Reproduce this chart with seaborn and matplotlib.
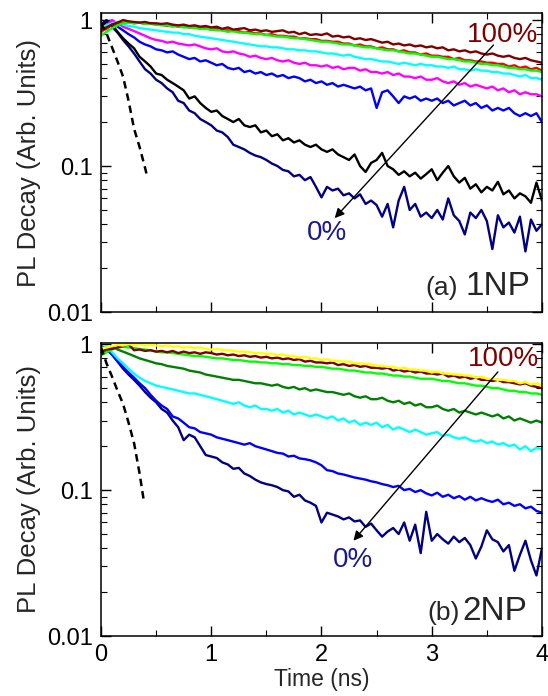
import numpy as np
import matplotlib.pyplot as plt
import matplotlib.ticker as mticker
import seaborn as sns

# ==============================================================================
# DATOS
# ==============================================================================

# --- Eje temporal común (ns), muestreo cada 0.05 ns ---
TIEMPO_NS = np.linspace(0.0, 4.0, 81)

# --- Panel (a) 1NP ---
MAROON_1NP = [0.86, 0.89, 0.93, 0.96, 1.00, 0.98, 0.97, 0.96, 0.97, 0.95,
              0.95, 0.94, 0.95, 0.93, 0.92, 0.93, 0.91, 0.92, 0.90, 0.91,
              0.89, 0.90, 0.87, 0.89, 0.86, 0.87, 0.88, 0.85, 0.86, 0.84,
              0.85, 0.83, 0.84, 0.85, 0.82, 0.83, 0.80, 0.82, 0.79, 0.80,
              0.79, 0.81, 0.77, 0.78, 0.76, 0.77, 0.74, 0.75, 0.73, 0.74,
              0.72, 0.70, 0.71, 0.68, 0.69, 0.67, 0.68, 0.66, 0.67, 0.65,
              0.66, 0.64, 0.65, 0.62, 0.63, 0.61, 0.62, 0.60, 0.61, 0.59,
              0.58, 0.59, 0.57, 0.56, 0.57, 0.55, 0.54, 0.55, 0.53, 0.52,
              0.51]
RED_1NP = [0.84, 0.87, 0.93, 0.95, 0.96, 0.97, 0.95, 0.96, 0.94, 0.95,
           0.93, 0.93, 0.91, 0.92, 0.90, 0.91, 0.89, 0.89, 0.88, 0.88,
           0.86, 0.87, 0.85, 0.85, 0.84, 0.84, 0.82, 0.83, 0.81, 0.81,
           0.79, 0.80, 0.78, 0.78, 0.77, 0.77, 0.75, 0.75, 0.74, 0.74,
           0.72, 0.72, 0.71, 0.71, 0.69, 0.69, 0.67, 0.68, 0.66, 0.66,
           0.64, 0.65, 0.63, 0.63, 0.61, 0.62, 0.60, 0.60, 0.58, 0.59,
           0.57, 0.57, 0.56, 0.56, 0.54, 0.55, 0.53, 0.53, 0.52, 0.52,
           0.51, 0.51, 0.50, 0.50, 0.48, 0.49, 0.47, 0.48, 0.46, 0.47,
           0.45]
LIME_1NP = [0.78, 0.83, 0.88, 0.92, 0.95, 0.96, 0.95, 0.96, 0.94, 0.94,
            0.93, 0.92, 0.92, 0.90, 0.91, 0.89, 0.89, 0.88, 0.87, 0.87,
            0.86, 0.85, 0.85, 0.83, 0.84, 0.82, 0.82, 0.81, 0.80, 0.80,
            0.79, 0.78, 0.77, 0.77, 0.76, 0.75, 0.75, 0.74, 0.73, 0.72,
            0.71, 0.71, 0.70, 0.69, 0.68, 0.68, 0.67, 0.66, 0.65, 0.65,
            0.64, 0.63, 0.62, 0.62, 0.61, 0.60, 0.59, 0.59, 0.58, 0.57,
            0.56, 0.56, 0.55, 0.54, 0.54, 0.53, 0.52, 0.52, 0.51, 0.50,
            0.50, 0.49, 0.49, 0.48, 0.47, 0.47, 0.46, 0.46, 0.45, 0.45,
            0.44]
CYAN_1NP = [0.88, 0.92, 0.95, 0.97, 0.93, 0.91, 0.90, 0.88, 0.87, 0.86,
            0.85, 0.84, 0.83, 0.82, 0.82, 0.80, 0.80, 0.78, 0.77, 0.76,
            0.75, 0.74, 0.73, 0.72, 0.71, 0.70, 0.69, 0.68, 0.67, 0.66,
            0.66, 0.65, 0.65, 0.64, 0.63, 0.63, 0.62, 0.62, 0.61, 0.61,
            0.60, 0.59, 0.59, 0.58, 0.57, 0.58, 0.56, 0.55, 0.54, 0.54,
            0.53, 0.52, 0.52, 0.51, 0.50, 0.51, 0.50, 0.49, 0.50, 0.49,
            0.49, 0.48, 0.48, 0.47, 0.48, 0.46, 0.46, 0.45, 0.46, 0.45,
            0.45, 0.44, 0.44, 0.43, 0.43, 0.42, 0.41, 0.42, 0.40, 0.40,
            0.39]
MAGENTA_1NP = [0.82, 0.92, 1.00, 0.95, 0.90, 0.87, 0.84, 0.81, 0.78, 0.75,
               0.73, 0.72, 0.70, 0.71, 0.69, 0.68, 0.67, 0.68, 0.66, 0.64,
               0.63, 0.64, 0.61, 0.60, 0.61, 0.59, 0.58, 0.56, 0.57, 0.55,
               0.54, 0.55, 0.53, 0.52, 0.53, 0.51, 0.50, 0.51, 0.49, 0.49,
               0.48, 0.49, 0.47, 0.48, 0.46, 0.47, 0.47, 0.45, 0.46, 0.44,
               0.44, 0.43, 0.44, 0.42, 0.43, 0.41, 0.41, 0.40, 0.41, 0.39,
               0.39, 0.40, 0.38, 0.37, 0.38, 0.36, 0.37, 0.35, 0.36, 0.35,
               0.34, 0.35, 0.33, 0.34, 0.32, 0.33, 0.31, 0.32, 0.31, 0.31,
               0.30]
BLUE_1NP = [0.85, 0.92, 0.96, 0.90, 0.85, 0.80, 0.76, 0.71, 0.68, 0.66,
            0.63, 0.62, 0.60, 0.61, 0.58, 0.56, 0.54, 0.55, 0.52, 0.53,
            0.51, 0.49, 0.50, 0.47, 0.46, 0.47, 0.44, 0.45, 0.43, 0.44,
            0.42, 0.43, 0.41, 0.42, 0.40, 0.41, 0.40, 0.38, 0.39, 0.37,
            0.38, 0.36, 0.37, 0.35, 0.36, 0.35, 0.34, 0.35, 0.33, 0.34,
            0.25, 0.32, 0.33, 0.30, 0.27, 0.30, 0.29, 0.30, 0.28, 0.29,
            0.28, 0.29, 0.27, 0.28, 0.26, 0.27, 0.28, 0.26, 0.27, 0.25,
            0.26, 0.24, 0.25, 0.24, 0.25, 0.23, 0.22, 0.23, 0.22, 0.23,
            0.20]
BLACK_1NP = [0.90, 0.97, 0.93, 0.83, 0.75, 0.69, 0.64, 0.56, 0.52, 0.48,
             0.43, 0.42, 0.39, 0.37, 0.35, 0.33, 0.29, 0.30, 0.27, 0.25,
             0.235, 0.24, 0.22, 0.21, 0.20, 0.21, 0.19, 0.185, 0.19, 0.17,
             0.175, 0.16, 0.165, 0.15, 0.155, 0.145, 0.15, 0.14, 0.135, 0.14,
             0.13, 0.125, 0.13, 0.12, 0.115, 0.11, 0.12, 0.10, 0.091, 0.105,
             0.11, 0.123, 0.10, 0.095, 0.087, 0.092, 0.085, 0.09, 0.082, 0.088,
             0.095, 0.08, 0.09, 0.10, 0.085, 0.077, 0.083, 0.07, 0.075, 0.066,
             0.072, 0.068, 0.078, 0.064, 0.068, 0.06, 0.065, 0.062, 0.056, 0.077,
             0.058]
NAVY_1NP = [0.93, 1.00, 0.90, 0.82, 0.73, 0.66, 0.59, 0.52, 0.46, 0.43,
            0.39, 0.37, 0.34, 0.32, 0.28, 0.27, 0.24, 0.23, 0.21, 0.20,
            0.19, 0.175, 0.17, 0.158, 0.14, 0.135, 0.13, 0.123, 0.118, 0.115,
            0.11, 0.104, 0.10, 0.094, 0.092, 0.085, 0.087, 0.08, 0.084, 0.072,
            0.061, 0.072, 0.068, 0.07, 0.063, 0.065, 0.06, 0.064, 0.055, 0.058,
            0.054, 0.045, 0.055, 0.038, 0.058, 0.072, 0.05, 0.055, 0.045, 0.048,
            0.044, 0.05, 0.043, 0.06, 0.046, 0.042, 0.034, 0.048, 0.044, 0.05,
            0.042, 0.027, 0.046, 0.038, 0.041, 0.035, 0.045, 0.026, 0.043, 0.036,
            0.04]
IRF_T_1NP = [0.0, 0.05, 0.10, 0.15, 0.20, 0.25, 0.30, 0.35, 0.40, 0.42]
IRF_1NP = [0.95, 0.81, 0.65, 0.52, 0.41, 0.28, 0.18, 0.135, 0.097, 0.084]

# --- Panel (b) 2NP ---
YELLOW_2NP = [0.93, 0.95, 0.97, 0.99, 0.98, 1.00, 0.99, 1.00, 0.98, 0.99,
              0.98, 0.97, 0.98, 0.96, 0.97, 0.95, 0.96, 0.94, 0.95, 0.93,
              0.92, 0.93, 0.91, 0.91, 0.90, 0.89, 0.89, 0.88, 0.87, 0.87,
              0.86, 0.86, 0.84, 0.85, 0.83, 0.83, 0.81, 0.82, 0.80, 0.80,
              0.78, 0.79, 0.77, 0.77, 0.76, 0.76, 0.74, 0.74, 0.73, 0.73,
              0.71, 0.71, 0.70, 0.70, 0.68, 0.69, 0.67, 0.67, 0.66, 0.66,
              0.64, 0.65, 0.63, 0.63, 0.62, 0.62, 0.61, 0.61, 0.59, 0.60,
              0.58, 0.58, 0.57, 0.57, 0.56, 0.56, 0.54, 0.55, 0.53, 0.54,
              0.52]
MAROON_2NP = [0.90, 0.92, 0.93, 0.95, 0.97, 1.00, 0.91, 0.92, 0.90, 0.91,
              0.89, 0.90, 0.88, 0.90, 0.87, 0.89, 0.87, 0.88, 0.86, 0.88,
              0.87, 0.85, 0.86, 0.84, 0.85, 0.83, 0.84, 0.82, 0.83, 0.81,
              0.82, 0.80, 0.81, 0.79, 0.80, 0.78, 0.79, 0.76, 0.77, 0.75,
              0.75, 0.74, 0.75, 0.72, 0.73, 0.71, 0.72, 0.70, 0.71, 0.69,
              0.69, 0.68, 0.69, 0.66, 0.67, 0.65, 0.66, 0.64, 0.65, 0.63,
              0.63, 0.62, 0.63, 0.60, 0.61, 0.59, 0.60, 0.58, 0.59, 0.57,
              0.57, 0.56, 0.57, 0.55, 0.55, 0.54, 0.53, 0.54, 0.52, 0.51,
              0.50]
LIME_2NP = [0.84, 0.88, 0.92, 0.95, 0.96, 0.95, 0.94, 0.93, 0.92, 0.91,
            0.89, 0.88, 0.88, 0.87, 0.86, 0.85, 0.84, 0.83, 0.83, 0.82,
            0.81, 0.80, 0.80, 0.79, 0.78, 0.78, 0.77, 0.76, 0.76, 0.75,
            0.75, 0.74, 0.74, 0.73, 0.73, 0.72, 0.72, 0.71, 0.71, 0.70,
            0.70, 0.69, 0.68, 0.68, 0.67, 0.66, 0.66, 0.65, 0.64, 0.64,
            0.63, 0.63, 0.62, 0.61, 0.61, 0.60, 0.60, 0.59, 0.58, 0.58,
            0.58, 0.57, 0.56, 0.56, 0.55, 0.54, 0.54, 0.53, 0.52, 0.52,
            0.51, 0.50, 0.50, 0.49, 0.48, 0.48, 0.47, 0.47, 0.46, 0.46,
            0.45]
GREEN_2NP = [0.86, 0.90, 0.97, 0.92, 0.89, 0.86, 0.83, 0.80, 0.78, 0.76,
             0.74, 0.73, 0.71, 0.70, 0.69, 0.68, 0.66, 0.65, 0.64, 0.62,
             0.61, 0.60, 0.59, 0.58, 0.57, 0.57, 0.56, 0.55, 0.54, 0.54,
             0.53, 0.52, 0.53, 0.51, 0.50, 0.51, 0.49, 0.50, 0.48, 0.49,
             0.48, 0.47, 0.47, 0.46, 0.45, 0.46, 0.44, 0.43, 0.44, 0.42,
             0.42, 0.43, 0.41, 0.40, 0.41, 0.39, 0.40, 0.38, 0.39, 0.37,
             0.37, 0.38, 0.36, 0.35, 0.36, 0.34, 0.35, 0.34, 0.33, 0.34,
             0.33, 0.32, 0.33, 0.31, 0.32, 0.30, 0.31, 0.30, 0.29, 0.30,
             0.29]
CYAN_2NP = [0.93, 0.97, 0.88, 0.80, 0.74, 0.68, 0.63, 0.59, 0.56, 0.54,
            0.52, 0.51, 0.50, 0.49, 0.48, 0.47, 0.46, 0.46, 0.45, 0.44,
            0.43, 0.42, 0.41, 0.40, 0.39, 0.40, 0.38, 0.37, 0.38, 0.36,
            0.36, 0.35, 0.36, 0.34, 0.35, 0.33, 0.34, 0.33, 0.32, 0.33,
            0.32, 0.31, 0.32, 0.30, 0.31, 0.29, 0.30, 0.28, 0.29, 0.28,
            0.29, 0.27, 0.28, 0.26, 0.27, 0.26, 0.25, 0.26, 0.25, 0.24,
            0.245, 0.25, 0.235, 0.24, 0.23, 0.225, 0.23, 0.22, 0.215, 0.22,
            0.21, 0.215, 0.205, 0.21, 0.20, 0.205, 0.19, 0.20, 0.185, 0.195,
            0.19]
BLUE_2NP = [0.97, 0.93, 0.85, 0.77, 0.70, 0.64, 0.59, 0.54, 0.50, 0.45,
            0.41, 0.38, 0.36, 0.32, 0.31, 0.29, 0.27, 0.265, 0.25, 0.245,
            0.24, 0.23, 0.225, 0.22, 0.215, 0.21, 0.205, 0.21, 0.20, 0.195,
            0.19, 0.185, 0.18, 0.178, 0.17, 0.172, 0.165, 0.163, 0.16, 0.155,
            0.148, 0.137, 0.135, 0.13, 0.128, 0.125, 0.122, 0.12, 0.118, 0.115,
            0.113, 0.11, 0.108, 0.105, 0.107, 0.10, 0.102, 0.097, 0.10, 0.095,
            0.092, 0.096, 0.09, 0.093, 0.088, 0.091, 0.086, 0.09, 0.085, 0.088,
            0.085, 0.083, 0.086, 0.08, 0.082, 0.078, 0.08, 0.075, 0.077, 0.072,
            0.07]
NAVY_2NP = [0.95, 0.92, 0.85, 0.76, 0.68, 0.62, 0.57, 0.52, 0.47, 0.43,
            0.40, 0.36, 0.34, 0.30, 0.27, 0.22, 0.24, 0.23, 0.20, 0.174,
            0.17, 0.166, 0.155, 0.15, 0.14, 0.142, 0.13, 0.125, 0.118, 0.113,
            0.11, 0.108, 0.105, 0.10, 0.098, 0.09, 0.093, 0.085, 0.082, 0.078,
            0.06, 0.07, 0.068, 0.066, 0.063, 0.065, 0.061, 0.062, 0.056, 0.059,
            0.053, 0.048, 0.052, 0.055, 0.05, 0.06, 0.045, 0.058, 0.037, 0.071,
            0.045, 0.05, 0.046, 0.043, 0.048, 0.044, 0.047, 0.042, 0.034, 0.041,
            0.053, 0.046, 0.044, 0.038, 0.042, 0.028, 0.036, 0.045, 0.033, 0.026,
            0.04]
IRF_T_2NP = [0.0, 0.05, 0.10, 0.15, 0.20, 0.25, 0.30, 0.35, 0.39]
IRF_2NP = [0.95, 0.74, 0.60, 0.48, 0.39, 0.29, 0.21, 0.13, 0.083]

# --- Rótulos ---
Y_TICKS = [0.01, 0.1, 1]
Y_TICK_LABELS = ['0.01', '0.1', '1']
X_TICKS = [0, 1, 2, 3, 4]

# --- Colores ---
C_MAROON = '#800000'
C_RED = '#ff0000'
C_LIME = '#00ff00'
C_CYAN = '#00ffff'
C_MAGENTA = '#ff00ff'
C_BLUE = '#0000ff'
C_NAVY = '#000080'
C_GREEN = '#008000'
C_YELLOW = '#ffff00'
C_LABEL_0 = '#1a1a8c'


def dibujar_panel(ax, curvas, irf_t, irf_v, ymax, letra, nombre,
                  flecha, txt100, txt0):
    for valores, color in curvas:
        sns.lineplot(x=TIEMPO_NS, y=valores, color=color, linewidth=1.7,
                     ax=ax, legend=False)
    sns.lineplot(x=irf_t, y=irf_v, color='black', linewidth=1.8, ax=ax,
                 legend=False, linestyle=(0, (3, 2)))

    ax.set_yscale('log')
    ax.set_xlim(0, 4)
    ax.set_ylim(0.01, ymax)
    ax.yaxis.set_major_locator(mticker.FixedLocator(Y_TICKS))
    ax.yaxis.set_major_formatter(mticker.FixedFormatter(Y_TICK_LABELS))
    ax.yaxis.set_minor_locator(mticker.LogLocator(base=10, subs=np.arange(2, 10)))
    ax.yaxis.set_minor_formatter(mticker.NullFormatter())
    ax.xaxis.set_major_locator(mticker.FixedLocator(X_TICKS))
    ax.xaxis.set_minor_locator(mticker.MultipleLocator(0.5))

    ax.tick_params(which='both', direction='in', top=True, right=True,
                   labelsize=17, colors='black')
    ax.tick_params(which='major', length=7, width=1, pad=6)
    ax.tick_params(which='minor', length=4, width=0.8)
    for s in ax.spines.values():
        s.set_linewidth(1.1)
        s.set_color('black')

    ax.set_ylabel('PL Decay (Arb. Units)', fontsize=18.5, labelpad=4)

    # Flecha 100% -> 0%
    (x0, y0), (x1, y1) = flecha
    ax.annotate('', xy=(x1, y1), xytext=(x0, y0),
                arrowprops=dict(arrowstyle='-|>', color='black', lw=1,
                                mutation_scale=14, shrinkA=0, shrinkB=0))
    ax.text(txt100[0], txt100[1], '100%', color=C_MAROON, fontsize=20,
            ha='center', va='center')
    ax.text(txt0[0], txt0[1], '0%', color=C_LABEL_0, fontsize=20,
            ha='center', va='center')

    ax.text(letra[1], letra[2], letra[0], transform=ax.transAxes,
            fontsize=19, ha='right', va='baseline')
    ax.text(nombre[1], nombre[2], nombre[0], transform=ax.transAxes,
            fontsize=24, ha='right', va='baseline')


if __name__ == "__main__":
    sns.set_style('ticks')
    plt.rcParams['font.family'] = ['Liberation Sans', 'DejaVu Sans']

    fig = plt.figure(figsize=(5.48, 6.96), dpi=100)
    ax_a = fig.add_axes([0.1843, 0.5517, 0.8047, 0.4296])
    ax_b = fig.add_axes([0.1843, 0.0862, 0.8047, 0.4210])

    curvas_a = [(NAVY_1NP, C_NAVY), (BLACK_1NP, 'black'), (BLUE_1NP, C_BLUE),
                (MAGENTA_1NP, C_MAGENTA), (CYAN_1NP, C_CYAN), (RED_1NP, C_RED),
                (LIME_1NP, C_LIME), (MAROON_1NP, C_MAROON)]
    curvas_b = [(NAVY_2NP, C_NAVY), (BLUE_2NP, C_BLUE), (CYAN_2NP, C_CYAN),
                (GREEN_2NP, C_GREEN), (LIME_2NP, C_LIME), (MAROON_2NP, C_MAROON),
                (YELLOW_2NP, C_YELLOW)]

    dibujar_panel(ax_a, curvas_a, IRF_T_1NP, IRF_1NP, 1.117,
                  ('(a)', 0.81, 0.057), ('1NP', 0.973, 0.057),
                  ((3.56, 0.674), (2.12, 0.044)), (3.64, 0.79), (2.05, 0.035))
    dibujar_panel(ax_b, curvas_b, IRF_T_2NP, IRF_2NP, 1.02,
                  ('(b)', 0.814, 0.055), ('2NP', 0.966, 0.055),
                  ((3.60, 0.646), (2.29, 0.045)), (3.65, 0.79), (2.29, 0.033))

    ax_a.tick_params(axis='x', labelbottom=False)
    ax_b.set_xlabel('Time (ns)', fontsize=16.5, labelpad=1)

    fig.savefig('out.png', dpi=100)
